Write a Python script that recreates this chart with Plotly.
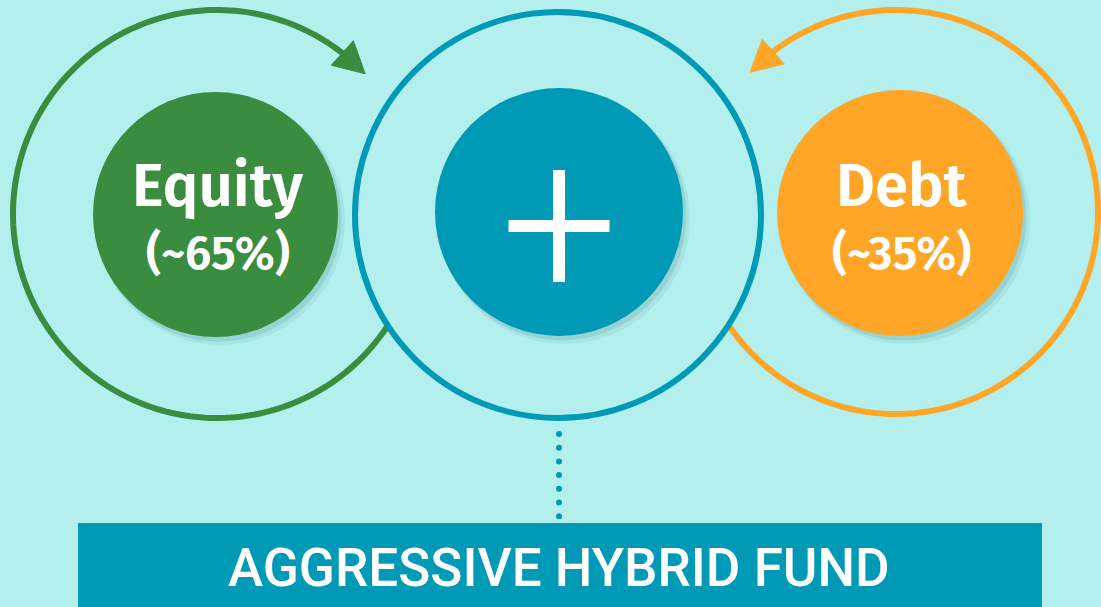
import numpy as np
import plotly.graph_objects as go

# ---- content ----
segments = ["Equity", "Debt"]
shares = ["(~65%)", "(~35%)"]
fund_title = "AGGRESSIVE HYBRID FUND"

# ---- style ----
BG = "#B3EFEC"
GREEN = "#3A8D3F"
TEAL = "#0099B6"
ORANGE = "#FFA628"
W, H = 1101, 607

# geometry (pixel space)
ring_green = dict(c=(217, 214), r=204)
ring_teal = dict(c=(558, 215), r=203)
ring_orange = dict(c=(896, 212), r=202)
disk_green = dict(c=(215.5, 214.5), r=122.5)
disk_teal = dict(c=(559, 212), r=124)
disk_orange = dict(c=(900, 213), r=123)
RING_W = 6

shapes = []


def circle(c, r, fill=None, line=None, lw=0):
    shapes.append(dict(type="circle", xref="x", yref="y",
                       x0=c[0] - r, x1=c[0] + r, y0=c[1] - r, y1=c[1] + r,
                       fillcolor=fill if fill else "rgba(0,0,0,0)",
                       line=dict(color=line if line else "rgba(0,0,0,0)", width=lw),
                       layer="above"))


def intersect(a, b, lower=True):
    (x1, y1), r1 = a["c"], a["r"]
    (x2, y2), r2 = b["c"], b["r"]
    d = np.hypot(x2 - x1, y2 - y1)
    aa = (d * d + r1 * r1 - r2 * r2) / (2 * d)
    h = np.sqrt(max(r1 * r1 - aa * aa, 0))
    ux, uy = (x2 - x1) / d, (y2 - y1) / d
    px, py = x1 + aa * ux, y1 + aa * uy
    p1 = (px - h * uy, py + h * ux)
    p2 = (px + h * uy, py - h * ux)
    return p1 if (p1[1] > p2[1]) == lower else p2


def arc_with_arrow(ring, start_pt, tip_pt, direction, color):
    cx, cy = ring["c"]
    r = ring["r"]
    a0 = np.arctan2(start_pt[1] - cy, start_pt[0] - cx)
    a1 = np.arctan2(tip_pt[1] - cy, tip_pt[0] - cx)
    head_len, head_half = 31.0, 16.5
    if direction > 0:
        while a1 <= a0:
            a1 += 2 * np.pi
    else:
        while a1 >= a0:
            a1 -= 2 * np.pi
    dphi = head_len / r
    a_base = a1 - direction * dphi
    a_line_end = a1 - direction * dphi * 0.6
    ts = np.linspace(a0, a_line_end, 200)
    xs = cx + r * np.cos(ts)
    ys = cy + r * np.sin(ts)
    path = "M " + " L ".join(f"{x:.2f},{y:.2f}" for x, y in zip(xs, ys))
    shapes.append(dict(type="path", xref="x", yref="y", path=path,
                       line=dict(color=color, width=RING_W), layer="above"))
    tx, ty = cx + r * np.cos(a1), cy + r * np.sin(a1)
    bx, by = cx + r * np.cos(a_base), cy + r * np.sin(a_base)
    dx, dy = tx - bx, ty - by
    L = np.hypot(dx, dy)
    nx, ny = -dy / L, dx / L
    tri = (f"M {tx:.2f},{ty:.2f} L {bx + nx * head_half:.2f},{by + ny * head_half:.2f} "
           f"L {bx - nx * head_half:.2f},{by - ny * head_half:.2f} Z")
    shapes.append(dict(type="path", xref="x", yref="y", path=tri,
                       fillcolor=color, line=dict(color=color, width=1), layer="above"))


# outer arcs with arrowheads
g_start = intersect(ring_green, ring_teal, lower=True)
arc_with_arrow(ring_green, g_start, (366, 73), +1, GREEN)
o_start = intersect(ring_orange, ring_teal, lower=True)
arc_with_arrow(ring_orange, o_start, (751, 73), -1, ORANGE)

# central ring
circle(ring_teal["c"], ring_teal["r"], line=TEAL, lw=RING_W)

# shadows + disks
for d, col in [(disk_green, GREEN), (disk_teal, TEAL), (disk_orange, ORANGE)]:
    c = d["c"]
    circle((c[0] + 5, c[1] + 6), d["r"] + 2, fill="rgba(0,70,80,0.06)")
    circle((c[0] + 3, c[1] + 4), d["r"] + 0.5, fill="rgba(0,70,80,0.10)")
    circle(c, d["r"], fill=col)

# plus sign
pc = (559, 226)
arm, th = 50.5, 6
shapes.append(dict(type="rect", xref="x", yref="y", x0=pc[0] - th, x1=pc[0] + th,
                   y0=pc[1] - 56, y1=pc[1] + 56, fillcolor="white",
                   line=dict(width=0), layer="above"))
shapes.append(dict(type="rect", xref="x", yref="y", x0=pc[0] - arm, x1=pc[0] + arm,
                   y0=pc[1] - th, y1=pc[1] + th, fillcolor="white",
                   line=dict(width=0), layer="above"))

# bottom banner
shapes.append(dict(type="rect", xref="x", yref="y", x0=78, x1=1042, y0=523, y1=620,
                   fillcolor=TEAL, line=dict(width=0), layer="above"))

fig = go.Figure()

# dotted connector
dots_y = np.arange(434, 520, 13.7)
fig.add_trace(go.Scatter(x=[559] * len(dots_y), y=dots_y, mode="markers",
                         marker=dict(color=TEAL, size=6), hoverinfo="skip",
                         showlegend=False))

annotations = []
FONT = "Fira Sans, Open Sans, Noto Sans, sans-serif"
for name, share, d in zip(segments, shares, [disk_green, disk_orange]):
    cx = d["c"][0] + 2
    annotations.append(dict(x=cx, y=186, xref="x", yref="y", text=name,
                            showarrow=False, xanchor="center", yanchor="middle",
                            font=dict(family=FONT, size=60, color="white", weight=600,
                                      shadow="none")))
    annotations.append(dict(x=cx, y=253, xref="x", yref="y", text=share,
                            showarrow=False, xanchor="center", yanchor="middle",
                            font=dict(family=FONT, size=47, color="white", weight=600,
                                      shadow="none")))

annotations.append(dict(x=559, y=568, xref="x", yref="y", text=fund_title,
                        showarrow=False, xanchor="center", yanchor="middle",
                        font=dict(family="Roboto, Open Sans, sans-serif",
                                  size=53, color="white", weight=500, shadow="none")))

fig.update_layout(
    width=W, height=H,
    margin=dict(l=0, r=0, t=0, b=0),
    paper_bgcolor=BG, plot_bgcolor=BG,
    xaxis=dict(range=[0, W], visible=False, fixedrange=True),
    yaxis=dict(range=[H, 0], visible=False, fixedrange=True),
    shapes=shapes,
    annotations=annotations,
    showlegend=False,
)

fig.write_html("out.html", config={"displayModeBar": False},
               post_script="document.body.style.margin='0';document.body.style.overflow='hidden';")
